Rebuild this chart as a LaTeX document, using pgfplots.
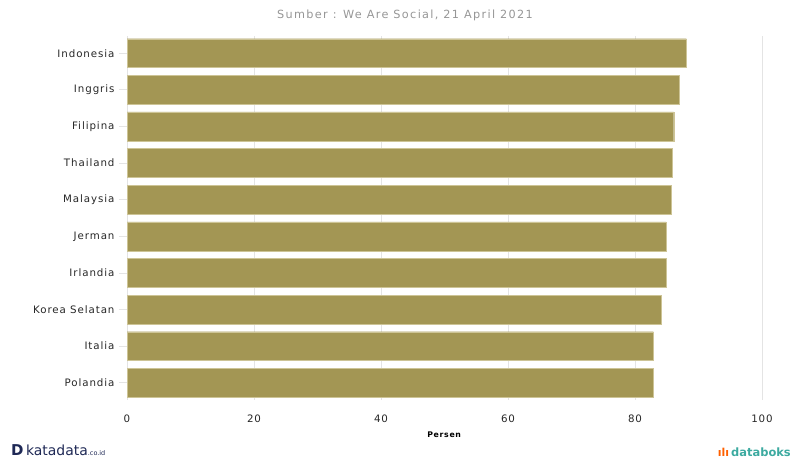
\documentclass[border=0pt]{standalone}
\usepackage{pgfplots}
\pgfplotsset{compat=1.18}
\usepackage{fontspec}
\setmainfont{DejaVu Sans}
\newfontfamily\lbl[LetterSpace=9]{DejaVu Sans}
\newfontfamily\ttl[LetterSpace=12]{DejaVu Sans}
\definecolor{barc}{RGB}{163,150,84}
\definecolor{baredge}{RGB}{205,196,150}
\definecolor{gridc}{RGB}{228,228,228}
\definecolor{titlec}{RGB}{150,150,150}
\definecolor{katac}{RGB}{30,40,85}
\definecolor{databc}{RGB}{60,170,160}
\begin{document}
\begin{tikzpicture}
\path[use as bounding box] (0,0) rectangle (798bp,459bp);
\begin{axis}[
  at={(127bp,59bp)}, anchor=south west,
  scale only axis, width=635bp, height=364bp,
  xbar, xmin=0, xmax=100,
  ymin=-0.47, ymax=9.47, y dir=reverse,
  bar width=0.79,
  xtick={0,20,...,100},
  ytick={0,...,9},
  ytick pos=left,
  yticklabels={Indonesia,Inggris,Filipina,Thailand,Malaysia,Jerman,Irlandia,Korea Selatan,Italia,Polandia},
  axis line style={draw=none},
  tick align=outside,
  major tick length=8bp,
  xtick style={draw=none},
  ytick style={draw=gridc, line width=0.8pt},
  xmajorgrids, major grid style={gridc, line width=0.8pt},
  tick label style={font=\lbl\fontsize{10.3}{12}\selectfont, text=black!85},
  /pgf/number format/assume math mode=true,
  xticklabel style={yshift=-3bp},
  yticklabel style={xshift=-1bp},
  xlabel={\textbf{Persen}},
  xlabel style={font=\lbl\fontsize{7.8}{9}\selectfont, at={(axis description cs:0.5,0)}, anchor=center, yshift=-35bp},
]
\addplot[fill=barc, draw=baredge] coordinates {
(88.1,0) (87.0,1) (86.1,2) (85.8,3) (85.7,4) (84.9,5) (84.9,6) (84.2,7) (82.9,8) (82.9,9)};
\end{axis}
\node[text=titlec, font=\ttl\fontsize{11.3}{13}\selectfont] at (405bp,444bp) {Sumber : We Are Social, 21 April 2021};
\node[anchor=west, text=katac, inner sep=0pt, font=\fontsize{15}{16}\selectfont\bfseries] at (11bp,9bp) {D\,\mdseries\fontsize{14}{15}\selectfont katadata\fontsize{6.5}{7}\selectfont.co.id};
\node[anchor=east, text=databc, inner sep=0pt, font=\fontsize{11.5}{13}\selectfont\bfseries] at (791bp,7bp) {\textcolor{orange!75!red}{\fontsize{11}{12}\selectfont ılı}\,databoks};
\end{tikzpicture}
\end{document}
